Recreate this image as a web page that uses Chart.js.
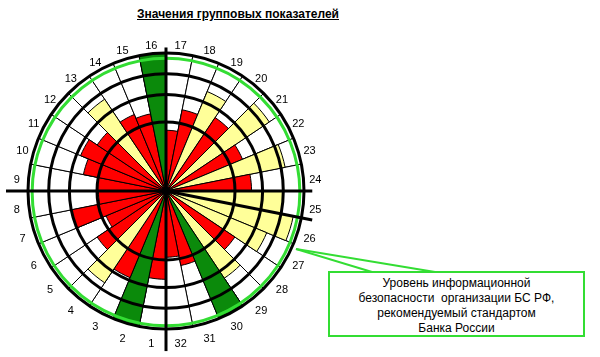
<!DOCTYPE html>
<html><head><meta charset="utf-8">
<script src="https://cdn.jsdelivr.net/npm/chart.js@4"></script>
<style>
html,body{margin:0;padding:0;background:#fff}
body{width:600px;height:357px;position:relative;overflow:hidden;font-family:Arial,"Liberation Sans",sans-serif}
#title{position:absolute;left:0;width:476px;top:7px;text-align:center;font-weight:bold;font-size:12px;text-decoration:underline;color:#000}
#wrap{position:absolute;left:6px;top:31px;width:320px;height:326px}
#note{position:absolute;left:328px;top:271px;width:257px;height:66px;box-sizing:border-box;border:2px solid #33dd33;background:#fff;text-align:center;font-size:12px;line-height:15px;padding-top:3px;color:#000}
#lines{position:absolute;left:0;top:0}
</style></head>
<body>
<div id="title">Значения групповых показателей</div>
<div id="wrap"><canvas id="c"></canvas></div>
<svg id="lines" width="600" height="357"><line x1="296" y1="249" x2="372" y2="272" stroke="#33dd33" stroke-width="2"/><line x1="296" y1="249" x2="435" y2="272" stroke="#33dd33" stroke-width="2"/></svg>
<div id="note">Уровень информационной<br>безопасности&nbsp; организации БС РФ,<br>рекомендуемый стандартом<br>Банка России</div>
<script>
const sectors = ['1','2','3','4','5','6','7','8','9','10','11','12','13','14','15','16','17','18','19','20','21','22','23','24','25','26','27','28','29','30','31','32'];
const values  = [0.64,1.0,0.68,0.80,0.60,0.47,0.70,0.49,0.50,0.61,0.67,0.60,0.80,0.60,0.57,1.0,0.44,0.60,0.78,0.64,0.90,0.60,0.88,0.62,0.85,0.94,0.79,0.60,0.76,1.0,0.55,0.48];
const levels  = ['R','G','R','Y','R','R','R','R','R','R','R','R','Y','R','R','G','R','R','Y','R','Y','R','Y','R','Y','Y','Y','R','Y','G','R','R'];
const ringValues = [0, 0.5, 0.7, 0.85, 1];
const recommended = 0.97;
const fullScale = [1,1,1,1,1,1,1,1,1,1,1,1,1,1,1,1,1,1,1,1,1,1,1,1,1,1,1,1,1,1,1,1];

const palette = {R:'#ff0000', Y:'#ffff99', G:'#0b8a0b'};

const overlay = {
  id:'overlay',
  afterDraw(chart){
    const s = chart.scales.r, ctx = chart.ctx;
    const cx = s.xCenter, cy = s.yCenter, R = s.drawingArea;
    ctx.save();
    ctx.strokeStyle = '#33dd33'; ctx.lineWidth = 3;
    ctx.beginPath(); ctx.arc(cx, cy+1, s.getDistanceFromCenterForValue(recommended), 0, Math.PI*2); ctx.stroke();
    ctx.strokeStyle = '#000'; ctx.lineWidth = 3;
    const axes = [[0,1.04],[90,1.06],[101.25,1.08],[180,1.16],[270,1.18]];
    axes.forEach(([a,k])=>{
      const t = a*Math.PI/180;
      ctx.beginPath(); ctx.moveTo(cx,cy); ctx.lineTo(cx+R*k*Math.sin(t), cy-R*k*Math.cos(t)); ctx.stroke();
    });
    ctx.fillStyle='#000'; ctx.beginPath(); ctx.arc(cx,cy,4,0,Math.PI*2); ctx.fill();
    ctx.font = '11px Arial, "Liberation Sans", sans-serif';
    ctx.textAlign='center'; ctx.textBaseline='middle'; ctx.fillStyle='#000';
    const n = sectors.length, step = 360/n;
    sectors.forEach((lab,i)=>{
      const t = (180 + (i+0.5)*step)*Math.PI/180;
      const r = R + 12;
      ctx.fillText(lab, cx + r*Math.sin(t), cy - r*Math.cos(t) + 4);
    });
    ctx.restore();
  }
};

new Chart(document.getElementById('c'), {
  type:'polarArea',
  data:{
    labels: sectors,
    datasets:[
      {data: values, backgroundColor: levels.map(l=>palette[l]), borderColor:'#000', borderWidth:1},
      {data: fullScale, backgroundColor:'#fff', borderColor:'#000', borderWidth:1}
    ]
  },
  options:{
    responsive:true, maintainAspectRatio:false, animation:false, events:[],
    layout:{padding:{left:22,right:22,top:22,bottom:28}},
    plugins:{legend:{display:false}, tooltip:{enabled:false}},
    scales:{r:{
      min:0, max:1, startAngle:180,
      afterBuildTicks(scale){ scale.ticks = ringValues.map(v=>({value:v})); },
      ticks:{display:false},
      grid:{circular:true, color:'#000', lineWidth:3, z:1},
      angleLines:{display:false},
      pointLabels:{display:false}
    }}
  },
  plugins:[overlay]
});
</script>
</body></html>
